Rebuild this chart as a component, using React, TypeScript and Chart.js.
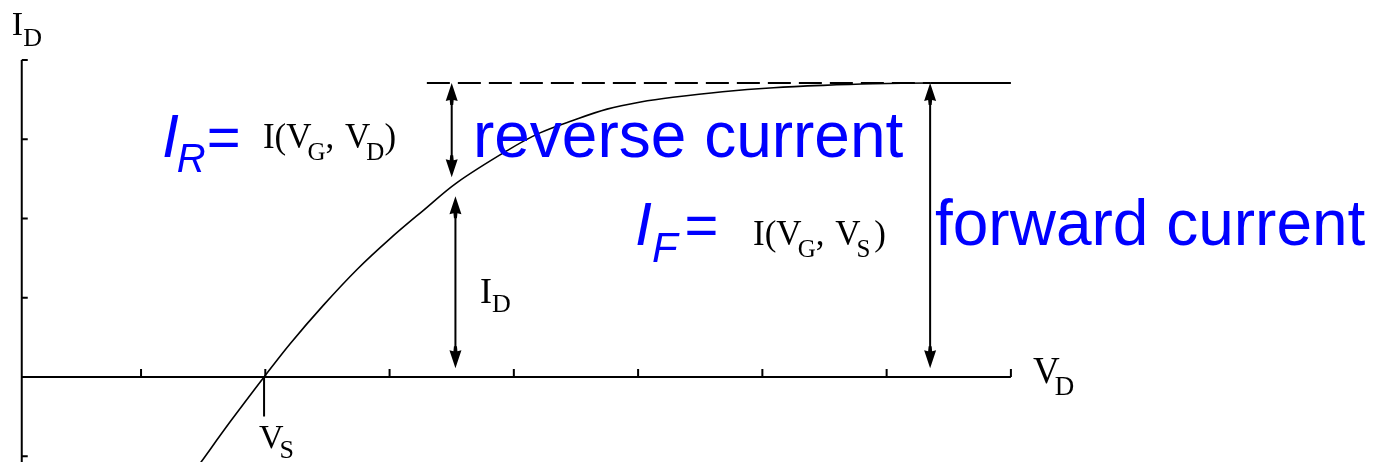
import React, { useEffect, useRef } from "react";
import { Chart, registerables } from "chart.js";

Chart.register(...registerables);

// I–V curve: drain current I_D against drain voltage V_D (arbitrary units)
const vdPoints = [1.48, 1.72, 1.99, 2.2, 2.47, 2.74, 3.0, 3.27, 3.54, 3.95, 4.21, 4.48, 4.75, 5.02, 5.28, 5.68, 6.09, 6.49, 6.89, 7.35];
const idPoints = [-1.08, -0.56, 0, 0.42, 0.91, 1.36, 1.74, 2.1, 2.45, 2.86, 3.08, 3.24, 3.38, 3.47, 3.53, 3.6, 3.65, 3.68, 3.7, 3.71];

// Axis tick positions
const vdTicks = [1, 2, 3, 4, 5, 6, 7, 8];
const idTicks = [-1, 1, 2, 3, 4];

// Characteristic values
const VS = 1.99; // source voltage (I_D = 0)
const I_F = 3.71; // forward (saturation) current level
const satStart = 3.3; // start of the dashed saturation guide
const satSolidFrom = 7.35; // where the guide becomes solid
const satEnd = 8;

// Double-headed current arrows: reverse, drain, forward
const arrowX = [3.5, 3.53, 7.35];
const arrowTop = [3.71, 2.28, 3.71];
const arrowBottom = [2.52, 0.11, 0.11];

// Visible data window and axis origin
const X_MIN = -0.135;
const X_MAX = 10.93;
const Y_MIN = -1.073;
const Y_MAX = 4.757;
const Y_AXIS_AT = 0.04;
const VS_MARK_END = -0.5;

const SERIF = "'Liberation Serif', 'Times New Roman', serif";
const SANS = "'Liberation Sans', Arial, sans-serif";
const BLUE = "#0000ff";

type Piece = { text: string; font: string; dy?: number; gap?: number };
type Note = { x: number; y: number; color: string; pieces: Piece[] };

const serifMain = `35px ${SERIF}`;
const serifSub = `25px ${SERIF}`;

const notes: Note[] = [
  {
    x: -0.04, y: 4.315, color: "#000",
    pieces: [{ text: "I", font: `34px ${SERIF}` }, { text: "D", font: `26px ${SERIF}`, dy: 11 }],
  },
  {
    x: 8.178, y: -0.076, color: "#000",
    pieces: [{ text: "V", font: `37px ${SERIF}`, gap: -5 }, { text: "D", font: `27px ${SERIF}`, dy: 12 }],
  },
  {
    x: 1.949, y: -0.896, color: "#000",
    pieces: [{ text: "V", font: `34px ${SERIF}`, gap: -4 }, { text: "S", font: `26px ${SERIF}`, dy: 10 }],
  },
  {
    x: 3.728, y: 0.934, color: "#000",
    pieces: [{ text: "I", font: `36px ${SERIF}` }, { text: "D", font: `26px ${SERIF}`, dy: 9 }],
  },
  {
    x: 1.981, y: 2.89, color: "#000",
    pieces: [
      { text: "I(", font: serifMain },
      { text: "V", font: serifMain, gap: -4 },
      { text: "G", font: serifSub, dy: 12 },
      { text: ", ", font: serifMain, gap: 2 },
      { text: "V", font: serifMain, gap: -4 },
      { text: "D", font: serifSub, dy: 12 },
      { text: ")", font: serifMain },
    ],
  },
  {
    x: 5.925, y: 1.666, color: "#000",
    pieces: [
      { text: "I(", font: serifMain },
      { text: "V", font: serifMain, gap: -4 },
      { text: "G", font: serifSub, dy: 12 },
      { text: ", ", font: serifMain, gap: 2 },
      { text: "V", font: serifMain, gap: -4 },
      { text: "S", font: serifSub, dy: 12, gap: 4 },
      { text: ")", font: serifMain },
    ],
  },
  {
    x: 1.168, y: 2.776, color: BLUE,
    pieces: [
      { text: "I", font: `italic 61px ${SANS}`, gap: -2 },
      { text: "R", font: `italic 40px ${SANS}`, dy: 15, gap: 1 },
      { text: "=", font: `58px ${SANS}` },
    ],
  },
  {
    x: 4.975, y: 1.666, color: BLUE,
    pieces: [
      { text: "I", font: `italic 61px ${SANS}`, gap: 0 },
      { text: "F", font: `italic 42px ${SANS}`, dy: 17, gap: 7 },
      { text: "=", font: `58px ${SANS}` },
    ],
  },
  {
    x: 3.671, y: 2.776, color: BLUE,
    pieces: [{ text: "reverse current", font: `64px ${SANS}` }],
  },
  {
    x: 7.389, y: 1.666, color: BLUE,
    pieces: [{ text: "forward current", font: `64px ${SANS}` }],
  },
];

const seg = (x0: number, y0: number, x1: number, y1: number) => [
  { x: x0, y: y0 },
  { x: x1, y: y1 },
];

function drawHead(ctx: CanvasRenderingContext2D, x: number, tipY: number, dir: 1 | -1) {
  // dir = -1 points up, dir = 1 points down
  const len = 22;
  const half = 6;
  ctx.beginPath();
  ctx.moveTo(x, tipY);
  ctx.lineTo(x + half, tipY - dir * (len - 4));
  ctx.lineTo(x + 2, tipY - dir * (len - 5));
  ctx.lineTo(x + 1.5, tipY - dir * len);
  ctx.lineTo(x - 1.5, tipY - dir * len);
  ctx.lineTo(x - 2, tipY - dir * (len - 5));
  ctx.lineTo(x - half, tipY - dir * (len - 4));
  ctx.closePath();
  ctx.fill();
}

const axesPlugin = {
  id: "diagramAxes",
  beforeDatasetsDraw(chart: any) {
    const { ctx, scales, chartArea } = chart;
    const xs = scales.x;
    const ys = scales.y;
    const ox = xs.getPixelForValue(Y_AXIS_AT);
    const oy = ys.getPixelForValue(0);
    ctx.save();
    ctx.strokeStyle = "#000";
    ctx.lineWidth = 2;
    ctx.lineCap = "butt";
    // vertical axis with inward ticks
    ctx.beginPath();
    ctx.moveTo(ox, ys.getPixelForValue(idTicks[idTicks.length - 1]));
    ctx.lineTo(ox, chartArea.bottom);
    for (const t of idTicks) {
      const py = ys.getPixelForValue(t);
      ctx.moveTo(ox, py);
      ctx.lineTo(ox + 6, py);
    }
    // horizontal axis with upward ticks
    ctx.moveTo(ox, oy);
    ctx.lineTo(xs.getPixelForValue(vdTicks[vdTicks.length - 1]), oy);
    for (const t of vdTicks) {
      const px = xs.getPixelForValue(t);
      ctx.moveTo(px, oy);
      ctx.lineTo(px, oy - 8);
    }
    ctx.stroke();
    ctx.restore();
  },
  afterDatasetsDraw(chart: any) {
    const { ctx, scales } = chart;
    const xs = scales.x;
    const ys = scales.y;
    ctx.save();
    ctx.fillStyle = "#000";
    arrowX.forEach((ax, i) => {
      const px = xs.getPixelForValue(ax);
      drawHead(ctx, px, ys.getPixelForValue(arrowTop[i]), -1);
      drawHead(ctx, px, ys.getPixelForValue(arrowBottom[i]), 1);
    });
    ctx.textAlign = "left";
    ctx.textBaseline = "alphabetic";
    for (const n of notes) {
      let cx = xs.getPixelForValue(n.x);
      const by = ys.getPixelForValue(n.y);
      ctx.fillStyle = n.color;
      for (const p of n.pieces) {
        ctx.font = p.font;
        ctx.fillText(p.text, cx, by + (p.dy || 0));
        cx += ctx.measureText(p.text).width + (p.gap || 0);
      }
    }
    ctx.restore();
  },
};

export default function App() {
  const canvasRef = useRef<HTMLCanvasElement | null>(null);

  useEffect(() => {
    const canvas = canvasRef.current;
    if (!canvas) return;
    const line = (data: { x: number; y: number }[], extra: any = {}) => ({
      data,
      borderColor: "#000",
      borderWidth: 2,
      pointRadius: 0,
      fill: false,
      ...extra,
    });
    const chart = new Chart(canvas, {
      type: "line",
      data: {
        datasets: [
          line(
            vdPoints.map((x, i) => ({ x, y: idPoints[i] })),
            { borderWidth: 1.6, tension: 0.35 }
          ),
          line(seg(satStart, I_F, satSolidFrom, I_F), { borderDash: [23, 8] }),
          line(seg(satSolidFrom, I_F, satEnd, I_F)),
          ...arrowX.map((ax, i) => line(seg(ax, arrowTop[i] - 0.1, ax, arrowBottom[i] + 0.1))),
          line(seg(VS, 0, VS, VS_MARK_END)),
        ],
      },
      options: {
        animation: false,
        responsive: false,
        devicePixelRatio: 1,
        layout: { padding: 0 },
        plugins: { legend: { display: false }, tooltip: { enabled: false } },
        scales: {
          x: { type: "linear", min: X_MIN, max: X_MAX, display: false },
          y: { type: "linear", min: Y_MIN, max: Y_MAX, display: false },
        },
      },
      plugins: [axesPlugin],
    });
    return () => chart.destroy();
  }, []);

  return (
    <div style={{ position: "absolute", left: 0, top: 0, width: 1375, height: 462, background: "#fff" }}>
      <canvas ref={canvasRef} width={1375} height={462} style={{ display: "block" }} />
    </div>
  );
}
